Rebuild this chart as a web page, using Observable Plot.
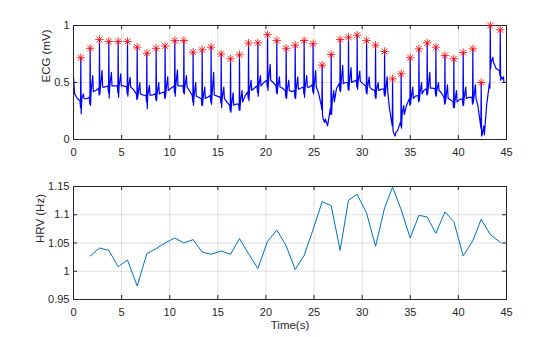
<!DOCTYPE html>
<html><head><meta charset="utf-8">
<script src="https://cdn.jsdelivr.net/npm/d3@7"></script>
<script src="https://cdn.jsdelivr.net/npm/@observablehq/plot@0.6"></script>
<style>body{margin:0;background:#fff} #chart svg{display:block}</style>
</head><body><div id="chart"></div>
<script>
// ---------- data ----------
const peakT = [0.76,1.73,2.70,3.67,4.64,5.61,6.62,7.62,8.59,9.52,
  10.53,11.47,12.43,13.37,14.30,15.35,16.32,17.25,18.19,19.16,
  20.17,21.13,22.10,23.04,23.97,24.90,25.84,26.78,27.71,28.58,
  29.48,30.46,31.39,32.33,33.16,34.05,34.99,35.90,36.76,37.66,
  38.60,39.53,40.50,41.50,42.37,43.31,44.35];
const peakV = [0.717,0.80,0.877,0.86,0.86,0.86,0.81,0.757,0.80,0.82,
  0.868,0.868,0.766,0.787,0.81,0.75,0.708,0.743,0.845,0.848,
  0.92,0.868,0.80,0.827,0.868,0.84,0.652,0.746,0.877,0.897,
  0.915,0.868,0.827,0.772,0.532,0.576,0.717,0.795,0.848,0.81,
  0.737,0.708,0.763,0.795,0.50,1.0,0.962];
// ECG levels around each beat (mV)
const preV = [0.34,0.37,0.45,0.47,0.47,0.46,0.40,0.386,0.40,0.415,
  0.47,0.47,0.386,0.357,0.386,0.37,0.30,0.31,0.415,0.47,
  0.52,0.47,0.43,0.43,0.46,0.48,0.30,0.27,0.49,0.50,
  0.52,0.47,0.43,0.445,0.15,0.15,0.357,0.386,0.445,0.445,
  0.37,0.33,0.357,0.37,0.14,0.49,0.605];
const qDipV = [0.28,0.31,0.39,0.41,0.41,0.40,0.35,0.33,0.35,0.36,
  0.41,0.41,0.33,0.30,0.33,0.32,0.25,0.26,0.36,0.41,
  0.46,0.41,0.37,0.37,0.40,0.42,0.26,0.22,0.43,0.44,
  0.46,0.41,0.37,0.39,0.12,0.12,0.30,0.33,0.39,0.39,
  0.31,0.28,0.30,0.31,0.10,0.45,0.56];
const dipV = [0.225,0.30,0.40,0.365,0.37,0.38,0.36,0.27,0.34,0.37,
  0.38,0.40,0.30,0.30,0.31,0.28,0.24,0.255,0.34,0.38,
  0.43,0.40,0.36,0.36,0.37,0.40,0.22,0.22,0.42,0.43,
  0.44,0.40,0.36,0.38,0.08,0.10,0.31,0.34,0.40,0.38,
  0.32,0.28,0.30,0.32,0.03,0.62,0.52];
const postV = [0.36,0.42,0.46,0.47,0.47,0.46,0.40,0.39,0.40,0.43,
  0.47,0.46,0.38,0.36,0.39,0.36,0.30,0.33,0.43,0.47,
  0.52,0.46,0.43,0.44,0.46,0.46,0.18,0.33,0.49,0.50,
  0.51,0.46,0.43,0.42,0.06,0.22,0.36,0.40,0.45,0.43,
  0.36,0.33,0.36,0.36,0.04,0.68,0.55];
const tUpV = [0.40,0.56,0.605,0.59,0.575,0.545,0.50,0.475,0.50,0.55,
  0.61,0.56,0.50,0.46,0.59,0.46,0.41,0.43,0.52,0.56,
  0.66,0.55,0.52,0.55,0.56,0.605,0.15,0.43,0.65,0.63,
  0.60,0.55,0.50,0.55,0.03,0.30,0.46,0.50,0.59,0.50,
  0.48,0.43,0.46,0.48,0.12,0.72,0.53];
const midV = [0.357,0.43,0.46,0.47,0.47,0.44,0.39,0.39,0.41,0.45,
  0.47,0.43,0.37,0.37,0.38,0.33,0.31,0.38,0.45,0.50,
  0.50,0.45,0.42,0.45,0.46,0.41,0.12,0.45,0.50,0.51,
  0.49,0.44,0.44,0.28,0.08,0.30,0.38,0.43,0.45,0.41,
  0.35,0.35,0.37,0.30,0.30,0.62,0.50];
const leadT = [0, 0.12, 0.40];
const leadV = [0.547, 0.40, 0.36];
const tailT = [45];
const tailV = [0.50];
// HRV (Hz) at beats 2..47
const hrvV = [1.027,1.041,1.037,1.008,1.020,0.974,1.031,1.040,1.050,1.059,
  1.050,1.056,1.034,1.030,1.036,1.030,1.058,1.031,1.005,1.053,
  1.073,1.045,1.003,1.028,1.074,1.123,1.116,1.037,1.126,1.136,
  1.103,1.044,1.112,1.149,1.109,1.059,1.099,1.096,1.067,1.105,
  1.088,1.027,1.054,1.092,1.065,1.051];
const xTicks = [0,5,10,15,20,25,30,35,40,45];
const ecgTicks = [0,0.5,1];
const hrvTicks = [0.95,1,1.05,1.1,1.15];

// ---------- tables ----------
const peaks = peakT.map((t,i)=>({t, v: peakV[i]}));
const ecg = leadT.map((t,i)=>({t, v: leadV[i]}));
peakT.forEach((t,i)=>{
  const next = i < peakT.length-1 ? peakT[i+1] : tailT[0];
  ecg.push({t: t-0.09, v: preV[i]});
  ecg.push({t: t-0.03, v: qDipV[i]});
  ecg.push({t: t, v: peakV[i]});
  ecg.push({t: t+0.04, v: dipV[i]});
  ecg.push({t: t+0.10, v: postV[i]});
  ecg.push({t: t+0.27, v: tUpV[i]});
  ecg.push({t: t+0.33, v: postV[i]});
  ecg.push({t: t+0.6*(next-t), v: midV[i]});
});
tailT.forEach((t,i)=>ecg.push({t, v: tailV[i]}));
const hrv = hrvV.map((v,i)=>({t: peakT[i+1], v}));

// ---------- drawing ----------
const W = 560;
const font = "'Liberation Sans', Arial, Helvetica, sans-serif";
const ax = "#262626";
const mL = 73, mR = 54;
const plotW = W - mL - mR;

const asterisk8 = {
  draw(ctx, size) {
    const r = Math.sqrt(size/Math.PI), d = r*Math.SQRT1_2;
    ctx.moveTo(-r,0); ctx.lineTo(r,0);
    ctx.moveTo(0,-r); ctx.lineTo(0,r);
    ctx.moveTo(-d,-d); ctx.lineTo(d,d);
    ctx.moveTo(-d,d); ctx.lineTo(d,-d);
  }
};

function frameMarks(yTicks, plotH, ylabel, ylabelDx, xlabel) {
  const m = [
    Plot.gridX(xTicks, {stroke: ax, strokeOpacity: 0.15}),
    Plot.gridY(yTicks, {stroke: ax, strokeOpacity: 0.15}),
  ];
  const after = [
    Plot.ruleX(xTicks, {x: d=>d, insetTop: plotH-4, stroke: ax}),
    Plot.ruleX(xTicks, {x: d=>d, insetBottom: plotH-4, stroke: ax}),
    Plot.ruleY(yTicks, {y: d=>d, insetRight: plotW-4, stroke: ax}),
    Plot.ruleY(yTicks, {y: d=>d, insetLeft: plotW-4, stroke: ax}),
    Plot.frame({stroke: ax}),
    Plot.axisX(xTicks, {anchor: "bottom", tickSize: 0, tickPadding: 9, label: null, tickFormat: d=>String(d), fontSize: 11}),
    Plot.axisY(yTicks, {anchor: "left", tickSize: 0, tickPadding: 4, label: null, tickFormat: d=>String(d), fontSize: 11}),
    Plot.text([ylabel], {frameAnchor: "left", dx: ylabelDx, rotate: -90, text: d=>d, fontSize: 11.5, lineAnchor: "middle"})
  ];
  if (xlabel) after.push(Plot.text([xlabel], {frameAnchor: "bottom", dy: 26, text: d=>d, fontSize: 11.5, lineAnchor: "middle"}));
  return [m, after];
}

const topH = 168, topMT = 25, topMB = 29;
const [g1, a1] = frameMarks(ecgTicks, topH-topMT-topMB, "ECG (mV)", -27, null);
const ecgChart = Plot.plot({
  width: W, height: topH, marginLeft: mL, marginRight: mR, marginTop: topMT, marginBottom: topMB,
  style: {fontFamily: font, color: ax, background: "#fff", overflow: "visible"},
  x: {domain: [0,45], axis: null},
  y: {domain: [0,1], axis: null},
  marks: [
    ...g1,
    Plot.line(ecg, {x: "t", y: "v", stroke: "#0000ff", strokeWidth: 1.2}),
    ...a1,
    Plot.dot(peaks, {x: "t", y: "v", symbol: asterisk8, r: 4.2, stroke: "#ff0000", fill: "none", strokeWidth: 0.8})
  ]
});

const botH = 169, botMT = 18, botMB = 38;
const [g2, a2] = frameMarks(hrvTicks, botH-botMT-botMB, "HRV (Hz)", -33, "Time(s)");
const hrvChart = Plot.plot({
  width: W, height: botH, marginLeft: mL, marginRight: mR, marginTop: botMT, marginBottom: botMB,
  style: {fontFamily: font, color: ax, background: "#fff", overflow: "visible"},
  x: {domain: [0,45], axis: null},
  y: {domain: [0.95,1.15], axis: null},
  marks: [
    ...g2,
    Plot.line(hrv, {x: "t", y: "v", stroke: "#0072bd", strokeWidth: 1}),
    ...a2
  ]
});

document.getElementById("chart").append(ecgChart, hrvChart);
</script>
</body></html>
